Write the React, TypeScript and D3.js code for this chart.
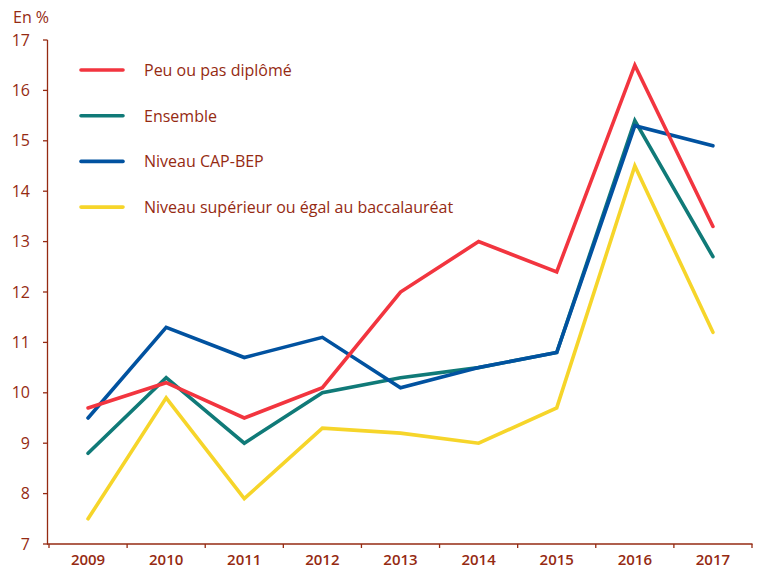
import React from "react";
import * as d3 from "d3";

const years = ["2009", "2010", "2011", "2012", "2013", "2014", "2015", "2016", "2017"];
const yTicks = [7, 8, 9, 10, 11, 12, 13, 14, 15, 16, 17];
const peu = [9.7, 10.2, 9.5, 10.1, 12.0, 13.0, 12.4, 16.5, 13.3];
const ensemble = [8.8, 10.3, 9.0, 10.0, 10.3, 10.5, 10.8, 15.4, 12.7];
const cap = [9.5, 11.3, 10.7, 11.1, 10.1, 10.5, 10.8, 15.3, 14.9];
const bac = [7.5, 9.9, 7.9, 9.3, 9.2, 9.0, 9.7, 14.5, 11.2];
const seriesNames = ["Peu ou pas diplômé", "Ensemble", "Niveau CAP-BEP", "Niveau supérieur ou égal au baccalauréat"];
const seriesColors = ["#f2353f", "#107a78", "#0152a0", "#f6d52a"];

const TXT = "#952a12";
const FONT = "'Open Sans', 'Noto Sans', sans-serif";

export default function App() {
  const W = 762, H = 567;
  const x = d3.scaleBand<string>().domain(years).range([49, 752]);
  const y = d3.scaleLinear().domain([7, 17]).range([544, 40]);
  const data = [peu, ensemble, cap, bac];
  const drawOrder = [3, 1, 2, 0];
  const line = d3.line<number>()
    .x((_, i) => (x(years[i]) as number) + x.bandwidth() / 2)
    .y((v) => y(v));
  const tickXs = years.map((yr) => x(yr) as number).concat([752]);
  return (
    <svg width={W} height={H} style={{ position: "absolute", left: 0, top: 0 }} fontFamily={FONT}>
      <rect width={W} height={H} fill="#fff" />
      <text x={13} y={22.5} fontSize={16} fill={TXT}>En %</text>
      {/* y axis */}
      <line x1={47.5} x2={47.5} y1={40} y2={544.5} stroke={TXT} strokeWidth={1.3} />
      {yTicks.map((t) => (
        <g key={t}>
          <line x1={43} x2={47.5} y1={y(t)} y2={y(t)} stroke={TXT} strokeWidth={1.3} />
          <text x={30} y={y(t) + 5.5} textAnchor="end" fontSize={16} fill={TXT}>{t}</text>
        </g>
      ))}
      {/* x axis */}
      <line x1={47} x2={752.5} y1={544} y2={544} stroke={TXT} strokeWidth={1.3} />
      {tickXs.map((tx, i) => (
        <line key={i} x1={tx} x2={tx} y1={544} y2={548} stroke={TXT} strokeWidth={1.3} />
      ))}
      {years.map((yr) => (
        <text key={yr} x={(x(yr) as number) + x.bandwidth() / 2} y={564.5} textAnchor="middle" fontSize={15} fontWeight={600} fill={TXT}>{yr}</text>
      ))}
      {/* lines */}
      {drawOrder.map((k) => (
        <path key={k} d={line(data[k]) || ""} fill="none" stroke={seriesColors[k]} strokeWidth={3.6} strokeLinejoin="miter" strokeLinecap="round" />
      ))}
      {/* legend */}
      {seriesNames.map((n, i) => (
        <g key={n} transform={`translate(0, ${70 + i * 45.7})`}>
          <line x1={81} x2={123} y1={0} y2={0} stroke={seriesColors[i]} strokeWidth={3.6} strokeLinecap="round" />
          <text x={144} y={6} fontSize={16} fill={TXT}>{n}</text>
        </g>
      ))}
    </svg>
  );
}
